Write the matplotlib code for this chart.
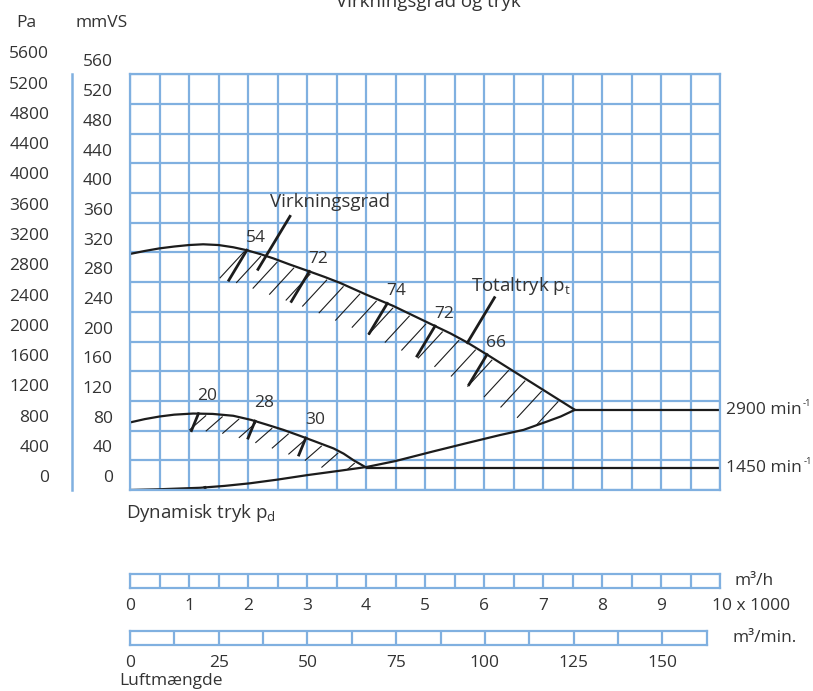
import matplotlib.pyplot as plt
import numpy as np
from matplotlib.transforms import blended_transform_factory, ScaledTranslation

plt.rcParams['font.family'] = ['Open Sans', 'DejaVu Sans']
plt.rcParams['mathtext.fontset'] = 'custom'
plt.rcParams['mathtext.rm'] = 'Open Sans'
plt.rcParams['mathtext.it'] = 'Open Sans'
plt.rcParams['mathtext.default'] = 'regular'

#-----------------------------------------------------------------------------------------------------------------------
# Daten: Q in 1000 m3/h, p in mmVS
q_tot = [0, 0.25, 0.5, 0.75, 1.0, 1.24, 1.5, 1.75, 1.98, 2.2, 2.43, 2.7, 3.02, 3.3, 3.56, 4.01, 4.46, 4.8, 5.14,
         5.43, 5.71, 6.1, 6.5, 6.8, 7.06, 7.3, 7.54]
p_tot = [318, 322, 325.5, 328, 330, 331, 330, 327, 323, 318, 312, 304, 295, 287, 279, 263, 248, 235, 222,
         211, 199, 180, 160, 145, 132, 120, 108]

q_dyn = [0, 0.5, 1.19, 1.6, 2.03, 2.5, 3.0, 3.56, 4.01, 4.5, 5.14, 5.7, 6.27, 6.67, 7.06, 7.3, 7.54]
p_dyn = [0, 1, 3, 5.5, 9, 14, 20, 26, 31, 39, 52, 63, 74, 81, 92, 99, 108]

q_1450 = [0, 0.25, 0.5, 0.75, 1.07, 1.4, 1.75, 2.05, 2.32, 2.6, 2.88, 3.15, 3.45, 3.62, 3.79, 4.01]
p_1450 = [91, 95.5, 99, 101.5, 103, 102.5, 100, 94.5, 88, 81, 73, 65, 56, 49, 40, 30]

eff_2900 = [54, 72, 74, 72, 66]
eff_q_2900 = [1.98, 3.04, 4.36, 5.17, 6.05]
eff_1450 = [20, 28, 30]
eff_q_1450 = [1.16, 2.12, 2.98]

mmvs_ticks = list(range(0, 561, 40))
pa_ticks = list(range(0, 5601, 400))
m3h_ticks = list(range(0, 11))
m3min_ticks = [0, 25, 50, 75, 100, 125, 150]

W, H = 813, 691
BLAU = '#80b0e0'
SORT = '#1c1c1c'
TXT = '#333333'
FS = 12.5      # tal
FS2 = 13.5     # ord i diagrammet
#-----------------------------------------------------------------------------------------------------------------------

fig = plt.figure(figsize=(W / 100, H / 100), dpi=100)


def box(l, t, r, b):
    return [l / W, 1 - b / H, (r - l) / W, (b - t) / H]


ax = fig.add_axes(box(130, 74.3, 720, 490))
ax.set_xlim(0, 10)
ax.set_ylim(0, 560)
ax.set_xticks(np.arange(0, 10.01, 0.5))
ax.set_yticks(mmvs_ticks)
ax.grid(color=BLAU, lw=1.6)
ax.set_axisbelow(True)
ax.tick_params(length=0, labelbottom=False, labelleft=False)
for s in ax.spines.values():
    s.set_color(BLAU)
    s.set_linewidth(1.6)

tr = blended_transform_factory(ax.transAxes, ax.transData)

# y-akser (Pa og mmVS)
ax.plot([-0.0988, -0.0988], [0, 560], transform=tr, clip_on=False, color=BLAU, lw=1.8)
for v in mmvs_ticks:
    ax.text(-0.029, v + 16, str(v), transform=tr, ha='right', va='center', fontsize=FS, color=TXT)
for v in pa_ticks:
    ax.text(-0.137, v / 9.81 + 16, str(v), transform=tr, ha='right', va='center', fontsize=FS, color=TXT)
fig.text(26 / W, 1 - 22.7 / H, 'Pa', ha='center', va='center', fontsize=FS, color=TXT)
fig.text(101.7 / W, 1 - 22.7 / H, 'mmVS', ha='center', va='center', fontsize=FS, color=TXT)
fig.text(428 / W, 1 - 7 / H, 'Virkningsgrad og tryk', ha='center', va='baseline', fontsize=FS2, color=TXT)

# kurver
ax.plot(q_tot, p_tot, color=SORT, lw=1.6, solid_capstyle='round', solid_joinstyle='round')
ax.plot(q_dyn, p_dyn, color=SORT, lw=1.6, solid_capstyle='round', solid_joinstyle='round')
ax.plot(q_1450, p_1450, color=SORT, lw=1.6, solid_capstyle='round', solid_joinstyle='round')
ax.plot([q_tot[-1], 10], [p_tot[-1], p_tot[-1]], color=SORT, lw=1.6)
ax.plot([q_1450[-1], 10], [p_1450[-1], p_1450[-1]], color=SORT, lw=1.6)
for n, p in (('2900', p_tot[-1]), ('1450', p_1450[-1])):
    t = ax.text(1.011, p, n + ' min', transform=tr, ha='left', va='center', fontsize=FS, color=TXT)
    ax.annotate('-1', xy=(1, 0), xycoords=t, xytext=(1, 12), textcoords='offset pixels',
                ha='left', va='baseline', fontsize=6.8, color=TXT)


def to_px(q, p):
    return ax.transData.transform((q, p))


def seg(q, p, x0, y0, x1, y1, **kw):
    # linie fra kurvepunkt + pixel-offset (y nedad positiv)
    P = to_px(q, p)
    a = ax.transData.inverted().transform(P + np.array([x0, -y0]))
    b = ax.transData.inverted().transform(P + np.array([x1, -y1]))
    return ax.plot([a[0], b[0]], [a[1], b[1]], color=SORT, **kw)[0]


# skravering
poly_2900 = plt.Polygon(list(zip(q_tot, p_tot)) + list(zip(q_dyn, p_dyn))[::-1], closed=True,
                        transform=ax.transData, fill=False, visible=False)
ax.add_patch(poly_2900)
q_end_1450 = q_1450[-1]
dyn_part = [(q, p) for q, p in zip(q_dyn, p_dyn) if q <= q_end_1450]
poly_1450 = plt.Polygon(list(zip(q_1450, p_1450)) + dyn_part[::-1], closed=True,
                        transform=ax.transData, fill=False, visible=False)
ax.add_patch(poly_1450)

for q in np.arange(1.95, 7.5, 0.28):
    p = np.interp(q, q_tot, p_tot)
    ln = seg(q, p, -1, 2, -25, 28, lw=0.8)
    ln.set_clip_path(poly_2900)
for q in np.arange(1.3, 3.95, 0.28):
    p = np.interp(q, q_1450, p_1450)
    ln = seg(q, p, -1, 2, -17, 16, lw=0.8)
    ln.set_clip_path(poly_1450)

# virkningsgrader
for q, e in zip(eff_q_2900, eff_2900):
    p = np.interp(q, q_tot, p_tot)
    seg(q, p, 0, 0, -18, 30, lw=2)
    ax.annotate(str(e), (q, p), xytext=(9, 12), textcoords='offset pixels', ha='center', va='center',
                fontsize=FS, color=TXT)
for q, e in zip(eff_q_1450, eff_1450):
    p = np.interp(q, q_1450, p_1450)
    seg(q, p, 0, 0, -7, 17, lw=2)
    ax.annotate(str(e), (q, p), xytext=(9, 18), textcoords='offset pixels', ha='center', va='center',
                fontsize=FS, color=TXT)

# henvisningslinier og tekster
q = 2.22
p = np.interp(q, q_tot, p_tot)
seg(q, p, -3, 15, 29, -38, lw=2)
P = to_px(q, p)
ax.text(*ax.transData.inverted().transform(P + np.array([69, 52])), 'Virkningsgrad',
        ha='center', va='center', fontsize=FS2, color=TXT)

q = 5.72
p = np.interp(q, q_tot, p_tot)
seg(q, p, 0, 0, 27, -45, lw=2)
P = to_px(q, p)
ax.text(*ax.transData.inverted().transform(P + np.array([54, 57])), 'Totaltryk p$_t$',
        ha='center', va='center', fontsize=FS2, color=TXT)

q = 1.27
p = np.interp(q, q_dyn, p_dyn)
seg(q, p, 0, 0, 1.5, 10, lw=2)
fig.text(126 / W, 1 - 518.5 / H, 'Dynamisk tryk p$_d$', ha='left', va='baseline', fontsize=FS2, color=TXT)

# Luftmaengde-skalaer
ax_h = fig.add_axes(box(130, 574, 720, 588.3))
ax_h.set_xlim(0, 10)
ax_h.set_ylim(0, 1)
ax_h.set_xticks(m3h_ticks)
ax_h.set_xticklabels([str(t) for t in m3h_ticks[:-1]] + ['10 x 1000'])
ax_h.set_xticks(np.arange(0.5, 10, 0.5), minor=True)
ax_h.set_yticks([])
ax_h.grid(which='both', axis='x', color=BLAU, lw=1.6)
ax_h.tick_params(which='both', length=0, pad=7, labelsize=FS, labelcolor=TXT)
for s in ax_h.spines.values():
    s.set_color(BLAU)
    s.set_linewidth(1.6)
lab = ax_h.get_xticklabels()[-1]
lab.set_horizontalalignment('left')
lab.set_transform(lab.get_transform() + ScaledTranslation(-8 / 100, 0, fig.dpi_scale_trans))
ax_h.text(1.025, 0.5, 'm³/h', transform=ax_h.transAxes, ha='left', va='center', fontsize=FS, color=TXT)

ax_m = fig.add_axes(box(130, 630.7, 706.7, 645))
ax_m.set_xlim(0, 162.5)
ax_m.set_ylim(0, 1)
ax_m.set_xticks(m3min_ticks)
ax_m.set_xticks(np.arange(12.5, 162.5, 12.5), minor=True)
ax_m.set_yticks([])
ax_m.grid(which='both', axis='x', color=BLAU, lw=1.6)
ax_m.tick_params(which='both', length=0, pad=7, labelsize=FS, labelcolor=TXT)
for s in ax_m.spines.values():
    s.set_color(BLAU)
    s.set_linewidth(1.6)
ax_m.text(1.0456, 0.5, 'm³/min.', transform=ax_m.transAxes, ha='left', va='center', fontsize=FS, color=TXT)

fig.text(119 / W, 1 - 681 / H, 'Luftmængde', ha='left', va='center', fontsize=FS, color=TXT)

plt.savefig('out.png', dpi=100)
